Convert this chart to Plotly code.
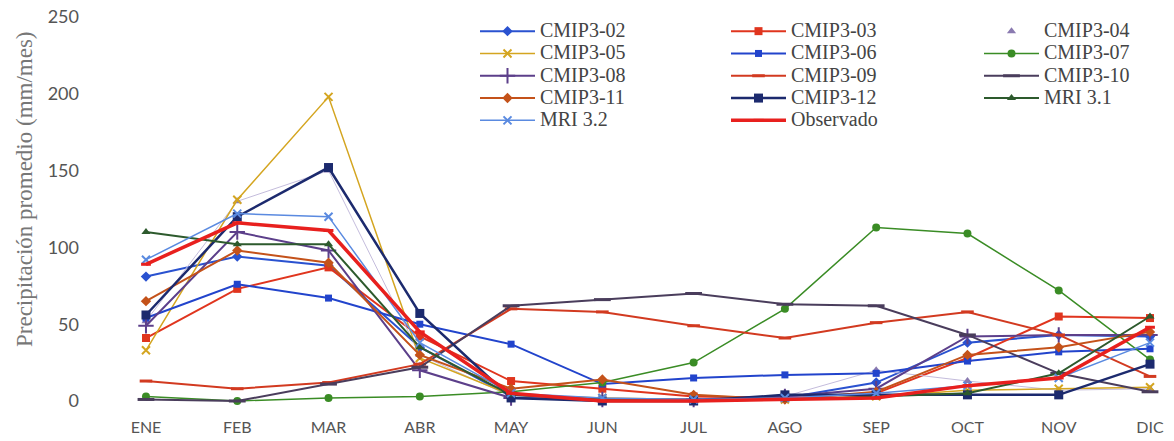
import plotly.graph_objects as go

# Monthly mean precipitation (mm/mes): climate model runs vs observed
meses = ["ENE", "FEB", "MAR", "ABR", "MAY", "JUN", "JUL", "AGO", "SEP", "OCT", "NOV", "DIC"]

cmip3_02 = [81, 94, 88, 35, 3, 1, 1, 2, 12, 38, 43, 42]
cmip3_03 = [41, 73, 87, 42, 13, 8, 3, 2, 5, 28, 55, 54]
cmip3_04 = [52, 130, 150, 30, 3, 1, 1, 3, 20, 13, 7, 8]
cmip3_05 = [33, 131, 198, 28, 4, 2, 1, 1, 3, 7, 8, 9]
cmip3_06 = [54, 76, 67, 50, 37, 11, 15, 17, 18, 26, 32, 34]
cmip3_07 = [3, 0, 2, 3, 6, 12, 25, 60, 113, 109, 72, 27]
cmip3_08 = [49, 110, 98, 20, 2, 1, 1, 3, 8, 42, 43, 43]
cmip3_09 = [13, 8, 12, 24, 60, 58, 49, 41, 51, 58, 43, 16]
cmip3_10 = [1, 0, 11, 22, 62, 66, 70, 63, 62, 43, 18, 6]
cmip3_11 = [65, 98, 90, 30, 8, 14, 4, 1, 6, 30, 35, 45]
cmip3_12 = [56, 120, 152, 57, 2, 0, 0, 4, 4, 4, 4, 24]
mri_31 = [110, 102, 102, 35, 4, 1, 0, 1, 3, 5, 18, 55]
mri_32 = [92, 122, 120, 38, 5, 2, 1, 2, 5, 10, 15, 38]
observado = [89, 116, 111, 45, 5, 0, 0, 1, 2, 10, 15, 48]

y_ticks = [0, 50, 100, 150, 200, 250]

W, H = 1174, 441
M_L, M_R, M_T, M_B = 80, 4, 6, 29
PLOT_W = W - M_L - M_R


def px_to_paper_x(px):
    return (px - M_L) / PLOT_W


def px_to_paper_y(py):
    return (H - M_B - py) / (H - M_T - M_B)


LEGEND_TEXT = 20


def label(txt):
    return f'<span style="font-size:{LEGEND_TEXT}px">{txt}</span>'


# name, values, colour, line width, marker symbol, marker size, legend column
series = [
    ("CMIP3-02", cmip3_02, "#2a52d0", 2.0, "diamond", 8, "legend"),
    ("CMIP3-03", cmip3_03, "#e0351e", 2.0, "square", 8, "legend2"),
    ("CMIP3-04", cmip3_04, "#8a7ab0", 1.0, "triangle-up", 8, "legend3"),
    ("CMIP3-05", cmip3_05, "#d4a520", 1.5, "x-thin-open", 8, "legend"),
    ("CMIP3-06", cmip3_06, "#2244cc", 2.0, "square", 7, "legend2"),
    ("CMIP3-07", cmip3_07, "#3a8c25", 1.5, "circle", 8, "legend3"),
    ("CMIP3-08", cmip3_08, "#5c3f8a", 2.0, "cross-thin-open", 11, "legend"),
    ("CMIP3-09", cmip3_09, "#d23a20", 2.0, "line-ew-open", 9, "legend2"),
    ("CMIP3-10", cmip3_10, "#4a3d5c", 2.0, "line-ew-open", 12, "legend3"),
    ("CMIP3-11", cmip3_11, "#c4521a", 2.0, "diamond", 8, "legend"),
    ("CMIP3-12", cmip3_12, "#1c2a6e", 2.5, "square", 9, "legend2"),
    ("MRI 3.1", mri_31, "#2d5a2d", 2.0, "triangle-up", 8, "legend3"),
    ("MRI 3.2", mri_32, "#5a8ae0", 1.5, "x-thin-open", 8, "legend"),
    ("Observado", observado, "#e8201e", 3.5, "line-ew-open", 7, "legend2"),
]

fig = go.Figure()
for name, vals, color, lw, sym, ms, leg in series:
    open_sym = sym.endswith("-open")
    marker = dict(symbol=sym, size=ms, color=color,
                  line=dict(width=3 if sym == "line-ew-open" else (2 if open_sym else 0), color=color))
    if name == "CMIP3-04":
        # faint connecting line, legend shows the marker only
        fig.add_trace(go.Scatter(x=meses, y=vals, mode="lines", line=dict(color="#c4bcdc", width=1),
                                 showlegend=False, legendgroup=name, hoverinfo="skip"))
        fig.add_trace(go.Scatter(x=meses, y=vals, mode="markers", name=label(name), marker=marker,
                                 legend=leg, legendgroup=name))
    else:
        fig.add_trace(go.Scatter(x=meses, y=vals, mode="lines+markers", name=label(name),
                                 line=dict(color=color, width=lw), marker=marker, legend=leg))

legend_common = dict(
    xanchor="left", yanchor="top", bgcolor="rgba(0,0,0,0)", borderwidth=0,
    font=dict(family="Liberation Serif", size=14.85, color="#444"),
    itemwidth=55, tracegroupgap=0, traceorder="normal",
)
leg_y = px_to_paper_y(15)
fig.update_layout(
    legend=dict(x=px_to_paper_x(475), y=leg_y, **legend_common),
    legend2=dict(x=px_to_paper_x(726), y=leg_y, **legend_common),
    legend3=dict(x=px_to_paper_x(979), y=leg_y, **legend_common),
)

cat_px = 91.3
fig.update_xaxes(
    type="category", categoryorder="array", categoryarray=meses,
    range=[-(146 - M_L) / cat_px, 11 + (W - M_R - 1150) / cat_px],
    showgrid=False, zeroline=False, showline=False, ticks="",
    tickfont=dict(family="Lato", size=16, color="#555"), ticklabelstandoff=4,
)
fig.update_yaxes(
    range=[-(H - M_B - 401) / 1.536, 250 + (17 - M_T) / 1.536],
    tickvals=y_ticks, showgrid=False, zeroline=False, showline=False, ticks="",
    tickfont=dict(family="Lato", size=18, color="#555"),
)

fig.add_annotation(
    text="Precipitación promedio (mm/mes)", textangle=-90,
    xref="paper", yref="paper", x=px_to_paper_x(25), y=px_to_paper_y(189),
    xanchor="center", yanchor="middle", showarrow=False,
    font=dict(family="Liberation Serif", size=23, color="#777"),
)

fig.update_layout(
    width=W, height=H, margin=dict(l=M_L, r=M_R, t=M_T, b=M_B),
    paper_bgcolor="white", plot_bgcolor="white", hovermode=False,
)

fig.write_html("out.html")
